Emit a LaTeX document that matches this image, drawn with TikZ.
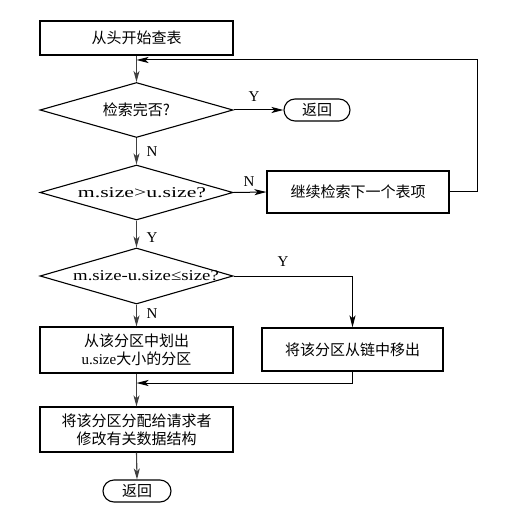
\documentclass[tikz,border=0pt]{standalone}
\usepackage{fontspec}
\setmainfont{Liberation Serif}
\newfontfamily\cjk{Noto Sans CJK SC}
\usetikzlibrary{shapes.geometric,arrows.meta}
\begin{document}
\begin{tikzpicture}[x=1pt,y=-1pt,
  every node/.style={font=\fontsize{15}{18}\selectfont},
  box/.style={draw=black,line width=1.1pt,rectangle,inner sep=0pt,align=center},
  dia/.style={draw=black,line width=1.1pt,diamond,inner sep=0pt,minimum width=193pt,minimum height=55pt},
  term/.style={draw=black,line width=1.1pt,rectangle,rounded corners=11pt,inner sep=0pt,minimum height=22pt},
  lab/.style={inner sep=0pt,font=\fontsize{15}{18}\selectfont},
  conn/.style={line width=1.1pt,draw=black!75},
  arr/.style={conn,-{Stealth[length=11pt,width=6pt,inset=3pt]}},
  harr/.style={line width=1pt,draw=black,-{Stealth[length=12pt,width=6pt,inset=3pt]}}]
\useasboundingbox (0,0) rectangle (511,518);
% nodes
\node[box,minimum width=193pt,minimum height=34pt] (b1) at (136.5,38) {\cjk 从头开始查表};
\node[dia] (d1) at (136.5,110) {};
\node[lab] (d1t) at (136.5,110) {\cjk 检索完否?};
\node[term,minimum width=66pt] (r1) at (317,110) {\cjk 返回};
\node[dia] (d2) at (136.5,192.5) {};
\node[lab] (d2t) at (142,192.5) {\scalebox{1.45}[1]{m.size>u.size?}};
\node[box,minimum width=182pt,minimum height=42pt] (b2) at (358,192) {\cjk 继续检索下一个表项};
\node[dia,minimum height=56pt] (d3) at (136.5,276) {};
\node[lab] (d3t) at (146,276) {\scalebox{1.25}[1]{m.size-u.size≤size?}};
\node[box,minimum width=181pt,minimum height=43pt] (b4) at (352.5,349.5) {\cjk 将该分区从链中移出};
\node[box,minimum width=193pt,minimum height=46pt] (b3) at (136.5,350) {{\cjk 从该分区中划出}\\u.size{\cjk 大小的分区}};
\node[box,minimum width=193pt,minimum height=45pt] (b5) at (136.5,429.5) {{\cjk 将该分区分配给请求者}\\{\cjk 修改有关数据结构}};
\node[term,minimum width=68pt] (r2) at (137,491) {\cjk 返回};
% labels
\node[lab] (l1) at (254,97) {Y};
\node[lab] (l2) at (152,152) {N};
\node[lab] (l3) at (249,182) {N};
\node[lab] (l4) at (152,238) {Y};
\node[lab] (l5) at (283,262) {Y};
\node[lab] (l6) at (152,314) {N};
% helper coordinates
\coordinate (loopR) at (477,60);
\coordinate (loopL) at (136.5,60);
\coordinate (merge) at (136.5,383);
\coordinate (d3R) at (352.5,276);
\coordinate (b4B) at (352.5,383);
% connectors
\draw[arr] (b1.south) -- (d1.north);
\draw[harr] (b2.east) -- (b2.east -| loopR) -- (loopR) -- (loopL);
\draw[harr] (d1.east) -- (r1.west);
\draw[arr] (d1.south) -- (d2.north);
\draw[harr] (d2.east) -- (b2.west);
\draw[arr] (d2.south) -- (d3.north);
\draw[harr] (d3.east) -- (d3R) -- (b4.north);
\draw[arr] (d3.south) -- (b3.north);
\draw[conn] (b3.south) -- (merge);
\draw[harr] (b4.south) -- (b4B) -- (merge);
\draw[arr] (merge) -- (b5.north);
\draw[arr] (b5.south) -- (r2.north);
\end{tikzpicture}
\end{document}
